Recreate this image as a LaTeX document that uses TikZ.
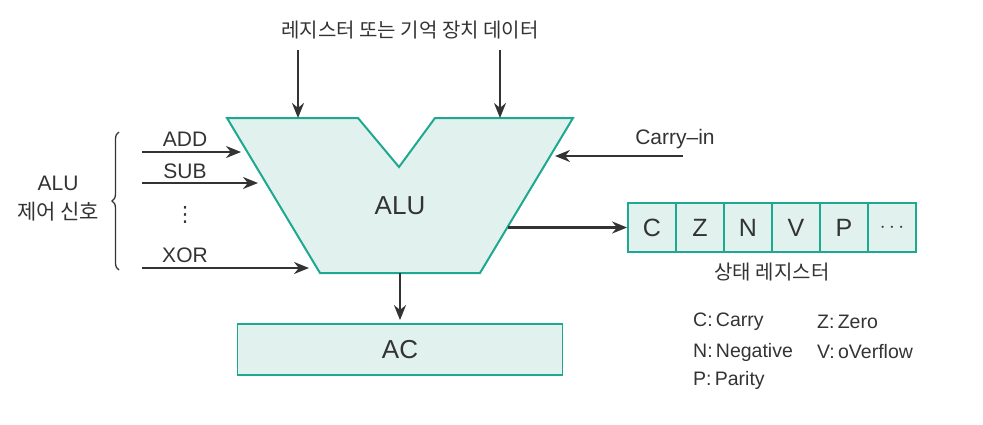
\documentclass[tikz,border=0pt]{standalone}
\usepackage{fontspec}
\setmainfont{Liberation Sans}
\newfontfamily\kr{Noto Sans CJK KR}
\newfontfamily\sym{DejaVu Sans}
\usetikzlibrary{arrows.meta,decorations.pathreplacing}
\definecolor{alufill}{HTML}{E1F2EE}
\definecolor{aluline}{HTML}{1FA891}
\definecolor{txt}{HTML}{333333}
\tikzset{
  lbl/.style={text=txt,font=\fontsize{21}{24}\selectfont,inner sep=0pt},
  krlbl/.style={text=txt,font=\kr\fontsize{20}{27}\selectfont,inner sep=0pt},
  arr/.style={draw=txt,line width=2.2pt,-{Stealth[length=15pt,width=12pt]}},
  cell/.style={draw=aluline,fill=alufill,line width=1.8pt,minimum width=48pt,
    minimum height=49pt,inner sep=0pt,text=txt,font=\fontsize{25}{27}\selectfont},
}
\begin{document}
\begin{tikzpicture}[x=1pt,y=1pt,yscale=-1]
        \useasboundingbox (0,0) rectangle (983,424);
        % ALU body
        \coordinate (tl) at (227,118);
        \coordinate (tr) at (573,118);
        \coordinate (bl) at (320,273);
        \coordinate (br) at (480,273);
        \draw [draw=aluline,fill=alufill,line width=2pt,line join=miter]
            (tl) -- (358,118) -- (399,167) -- (435,118) -- (tr) -- (br) -- (bl) -- cycle;
        \node [lbl,font=\fontsize{26}{28}\selectfont] (alu) at (400,206) {ALU};
        \coordinate (alubot) at (400,273);
        % inputs from top
        \node [krlbl] (src) at (410,30) {레지스터 또는 기억 장치 데이터};
        \coordinate (srca) at (298,50);
        \coordinate (srcb) at (500,50);
        \draw [arr] (srca) -- (srca |- tl);
        \draw [arr] (srcb) -- (srcb |- tr);
        % control signals
        \node [lbl] (add) at (185,139) {ADD};
        \node [lbl] (sub) at (185,171) {SUB};
        \node [lbl,font=\sym\fontsize{21}{23}\selectfont] (dots) at (185,215) {⋮};
        \node [lbl] (xor) at (185,255) {XOR};
        \coordinate (adds) at (142,152);
        \coordinate (subs) at (142,183);
        \coordinate (xors) at (142,268);
        \draw [arr] (adds) -- (241,152);
        \draw [arr] (subs) -- (258,183);
        \draw [arr] (xors) -- (309,268);
        \draw [draw=txt,line width=1.3pt,decorate,decoration={brace,amplitude=7pt}]
            (119,270) -- (119,132);
        \node [lbl,align=center] (ctrl) at (58,199) {ALU\\[5pt]{\kr 제어 신호}};
        % carry in
        \node [lbl] (carry) at (675,139) {Carry--in};
        \coordinate (carrys) at (683,156);
        \draw [arr] (carrys) -- (555,156);
        % status register
        \foreach \f [count=\i] in {C,Z,N,V,P,{\fontsize{21}{23}\selectfont$\cdots$}}
            \node [cell] (f\i) at (604+48*\i,227.5) {\f};
        \coordinate (outs) at (508,227.5);
        \draw [arr] (outs) -- (f1.west);
        \node [krlbl] (stat) at (772,272) {상태 레지스터};
        % legend
        \node [lbl,anchor=west,font=\fontsize{19.5}{22}\selectfont] (lc) at (693,322) {C:\,Carry};
        \node [lbl,anchor=west,font=\fontsize{19.5}{22}\selectfont] (lz) at (817,322) {Z:\,Zero};
        \node [lbl,anchor=west,font=\fontsize{19.5}{22}\selectfont] (ln) at (693,352) {N:\,Negative};
        \node [lbl,anchor=west,font=\fontsize{19.5}{22}\selectfont] (lv) at (817,352) {V:\,oVerflow};
        \node [lbl,anchor=west,font=\fontsize{19.5}{22}\selectfont] (lp) at (693,380) {P:\,Parity};
        % accumulator
        \node [draw=aluline,fill=alufill,line width=1.8pt,minimum width=325pt,minimum height=51pt,
            text=txt,font=\fontsize{26}{28}\selectfont] (ac) at (400,349.5) {AC};
        \draw [arr,shorten >=3pt] (alubot) -- (ac.north);
\end{tikzpicture}
\end{document}
